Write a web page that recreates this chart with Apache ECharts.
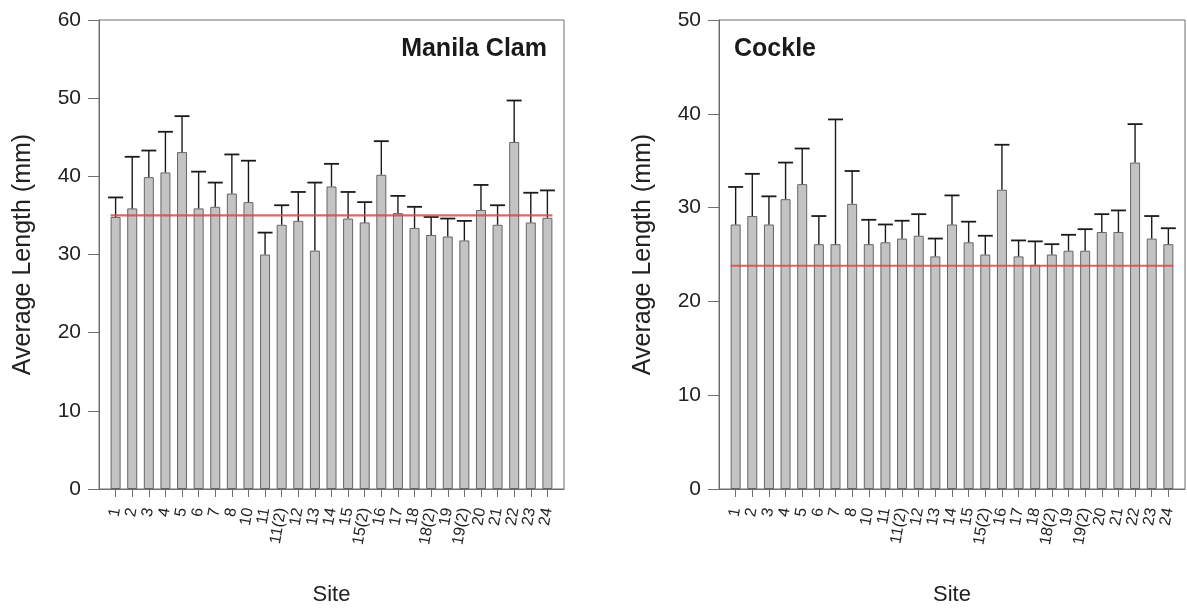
<!DOCTYPE html>
<html>
<head>
<meta charset="utf-8">
<script src="https://cdn.jsdelivr.net/npm/echarts@6/dist/echarts.min.js"></script>
<style>html,body{margin:0;padding:0;background:#fff;}#c{width:1187px;height:610px;}</style>
</head>
<body>
<div id="c"></div>
<script>
const sites = ['1','2','3','4','5','6','7','8','10','11','11(2)','12','13','14','15','15(2)','16','17','18','18(2)','19','19(2)','20','21','22','23','24'];
const clamMean = [34.8,35.9,39.9,40.5,43.1,35.9,36.1,37.8,36.7,30.0,33.8,34.3,30.5,38.7,34.6,34.1,40.2,35.3,33.4,32.5,32.3,31.8,35.7,33.8,44.4,34.1,34.7];
const clamErr  = [2.5,6.6,3.4,5.2,4.6,4.7,3.1,5.0,5.3,2.8,2.5,3.7,8.7,2.9,3.4,2.6,4.3,2.2,2.7,2.3,2.3,2.5,3.2,2.5,5.3,3.8,3.5];
const cockleMean = [28.2,29.1,28.2,30.9,32.5,26.1,26.1,30.4,26.1,26.3,26.7,27.0,24.8,28.2,26.3,25.0,31.9,24.8,23.9,25.0,25.4,25.4,27.4,27.4,34.8,26.7,26.1];
const cockleErr  = [4.0,4.5,3.0,3.9,3.8,3.0,13.3,3.5,2.6,1.9,1.9,2.3,1.9,3.1,2.2,2.0,4.8,1.7,2.5,1.1,1.7,2.3,1.9,2.3,4.1,2.4,1.7];
const clamOverall = 35.0;
const cockleOverall = 23.8;
const clamTicks = {min: 0, max: 60, interval: 10};
const cockleTicks = {min: 0, max: 50, interval: 10};

const padded = [''].concat(sites).concat(['']);
const pad = arr => [null].concat(arr).concat([null]);

const axisColor = '#6e6e6e';
const font = 'Liberation Sans, Arial, sans-serif';

function xAxis(gi){
  return {
    type: 'category', gridIndex: gi, data: padded, boundaryGap: false,
    axisLine: {lineStyle: {color: axisColor, width: 1}},
    axisTick: {show: true, inside: false, length: 8, lineStyle: {color: axisColor},
      interval: (i) => i > 0 && i < padded.length - 1},
    axisLabel: {interval: 0, rotate: 80, margin: 19, fontSize: 16, color: '#222', fontFamily: font},
    name: 'Site', nameLocation: 'middle', nameGap: 95,
    nameTextStyle: {fontSize: 22, color: '#222', fontFamily: font},
    splitLine: {show: false}
  };
}
function yAxis(gi, t){
  return {
    type: 'value', gridIndex: gi, min: t.min, max: t.max, interval: t.interval,
    axisLine: {show: true, lineStyle: {color: axisColor, width: 1}},
    axisTick: {show: true, length: 11, lineStyle: {color: axisColor}},
    axisLabel: {fontSize: 21, color: '#222', margin: 18, fontFamily: font},
    splitLine: {show: false},
    name: 'Average Length (mm)', nameLocation: 'middle', nameGap: 63,
    nameTextStyle: {fontSize: 25, color: '#222', fontFamily: font}
  };
}
function barSeries(gi, vals){
  return {
    type: 'bar', xAxisIndex: gi, yAxisIndex: gi, data: pad(vals), barWidth: 10,
    itemStyle: {color: '#c3c3c3', borderColor: '#666', borderWidth: 1},
    silent: true, z: 2
  };
}
function errSeries(gi, vals, errs){
  const data = vals.map((v, i) => [i + 1, v, v + errs[i]]);
  return {
    type: 'custom', xAxisIndex: gi, yAxisIndex: gi, data: data, z: 3, silent: true,
    encode: {x: 0, y: [1, 2]},
    renderItem: function(params, api){
      const x = api.value(0);
      const p0 = api.coord([x, api.value(1)]);
      const p1 = api.coord([x, api.value(2)]);
      const hw = 7.5;
      return {type: 'group', children: [
        {type: 'line', shape: {x1: p0[0], y1: p0[1], x2: p1[0], y2: p1[1]}, style: {stroke: '#1a1a1a', lineWidth: 1.4}},
        {type: 'line', shape: {x1: p1[0] - hw, y1: p1[1], x2: p1[0] + hw, y2: p1[1]}, style: {stroke: '#1a1a1a', lineWidth: 1.8}}
      ]};
    }
  };
}
function meanSeries(gi, mean){
  return {
    type: 'custom', xAxisIndex: gi, yAxisIndex: gi, data: [[1, sites.length, mean]], z: 4, silent: true,
    encode: {x: [0, 1], y: 2},
    renderItem: function(params, api){
      const a = api.coord([api.value(0), api.value(2)]);
      const b = api.coord([api.value(1), api.value(2)]);
      return {type: 'line', shape: {x1: a[0] - 5, y1: a[1], x2: b[0] + 5, y2: b[1]},
        style: {stroke: 'rgba(225,70,70,0.85)', lineWidth: 2.2}};
    }
  };
}

const chart = echarts.init(document.getElementById('c'), null, {renderer: 'canvas'});
chart.setOption({
  backgroundColor: '#fff',
  animation: false,
  title: [
    {text: 'Manila Clam', right: 635, top: 32, textStyle: {fontSize: 25, fontWeight: 'bold', color: '#1a1a1a', fontFamily: font}},
    {text: 'Cockle', left: 729, top: 32, textStyle: {fontSize: 25, fontWeight: 'bold', color: '#1a1a1a', fontFamily: font}}
  ],
  grid: [
    {left: 99, top: 20, width: 465, height: 469, show: true, borderColor: axisColor, borderWidth: 1, backgroundColor: 'transparent', containLabel: false, outerBoundsMode: 'none'},
    {left: 719, top: 20, width: 466, height: 469, show: true, borderColor: axisColor, borderWidth: 1, backgroundColor: 'transparent', containLabel: false, outerBoundsMode: 'none'}
  ],
  xAxis: [xAxis(0), xAxis(1)],
  yAxis: [yAxis(0, clamTicks), yAxis(1, cockleTicks)],
  series: [
    barSeries(0, clamMean), errSeries(0, clamMean, clamErr), meanSeries(0, clamOverall),
    barSeries(1, cockleMean), errSeries(1, cockleMean, cockleErr), meanSeries(1, cockleOverall)
  ]
});
</script>
</body>
</html>
